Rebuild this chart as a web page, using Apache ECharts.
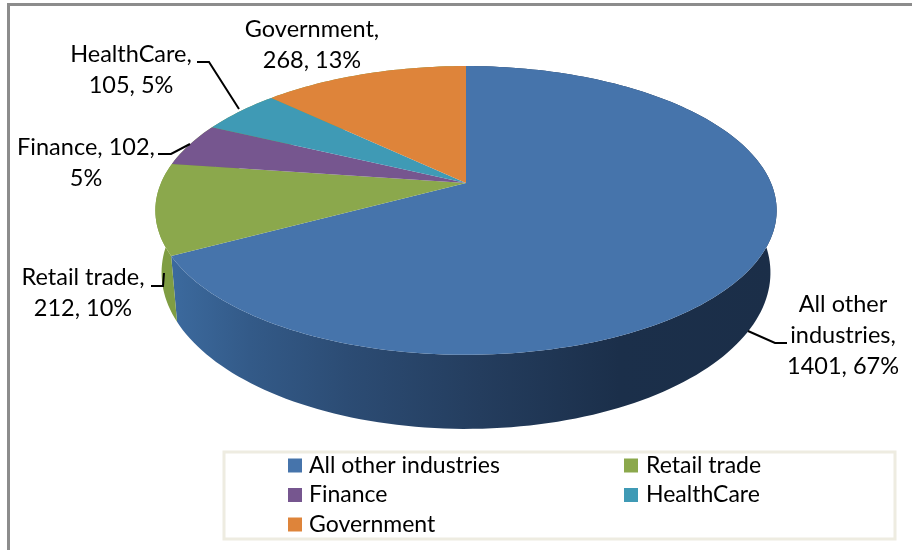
<!DOCTYPE html>
<html>
<head>
<meta charset="utf-8">
<style>html,body{margin:0;padding:0;background:#fff}#main{width:912px;height:550px}</style>
<script src="https://cdn.jsdelivr.net/npm/echarts@6/dist/echarts.min.js"></script>
</head>
<body>
<div id="main"></div>
<script>
var categories = ['All other industries', 'Retail trade', 'Finance', 'HealthCare', 'Government'];
var values = [1401, 212, 102, 105, 268];
var labelTexts = [
    'All other\nindustries,\n1401, 67%',
    'Retail trade,\n212, 10%',
    'Finance, 102,\n5%',
    'HealthCare,\n105, 5%',
    'Government,\n268, 13%'
];
var colors = ['#4674ab', '#8ba84c', '#76568f', '#3f9ab5', '#de843a'];

// where the labels and their leader lines sit
var labelPos = [[843, 335], [83, 293], [86, 163], [131, 70], [312, 45]];
var leaders = [
    [[787, 343], [775, 343], [748, 331]],
    [[151, 286], [163, 286], [164, 273]],
    [[158, 154], [171, 154], [190, 144]],
    [[197, 62], [209, 62], [239, 109]],
    null
];

var total = values.reduce(function (a, b) { return a + b; }, 0);

// tilted disc: projective mapping of the unit circle, the apex is not the ellipse centre
var cx = 466, cy = 183, A = 305, B = 104.4, K = -0.19, depth = 60;
function project(deg, drop) {
    var t = deg * Math.PI / 180;
    var a = Math.sin(t), b = -Math.cos(t);
    var w = 1 + K * b;
    var shrink = drop ? 0.98 : 1;
    return [cx + shrink * A * a / w, (cy + (drop ? depth : 0) + B * b) / w];
}
function arcPoints(from, to, drop) {
    var pts = [], n = Math.max(2, Math.ceil((to - from) / 1.5));
    for (var i = 0; i <= n; i++) {
        pts.push(project(from + (to - from) * i / n, drop));
    }
    return pts;
}

var startAngles = [];
(function () {
    var acc = 0;
    values.forEach(function (v) {
        startAngles.push(acc / total * 360);
        acc += v;
    });
})();

function wallFill(idx) {
    if (idx === 0) {
        return {
            type: 'linear', x: 0, y: 0, x2: 1, y2: 0,
            colorStops: [
                { offset: 0, color: '#3c6a9e' },
                { offset: 0.13, color: '#335a88' },
                { offset: 0.29, color: '#2c4c74' },
                { offset: 0.51, color: '#243d5e' },
                { offset: 0.74, color: '#1b2f4a' },
                { offset: 1, color: '#1b2e48' }
            ]
        };
    }
    return '#7f9d43';
}

function renderSlice(params) {
    var idx = params.seriesIndex;
    var from = startAngles[idx];
    var to = from + values[idx] / total * 360;
    var top = arcPoints(from, to, false);
    var bottom = arcPoints(from, to, true);
    var children = [];

    // only the near half of the rim shows, the top faces paint over the rest
    children.push({
        type: 'polygon', z2: 1, silent: true,
        shape: { points: top.concat(bottom.slice().reverse()) },
        style: { fill: wallFill(idx) }
    });
    children.push({
        type: 'polygon', z2: 2,
        shape: { points: [[cx, cy]].concat(top) },
        style: { fill: colors[idx] }
    });
    if (leaders[idx]) {
        children.push({
            type: 'polyline', z2: 3, silent: true,
            shape: { points: leaders[idx] },
            style: { stroke: '#000', lineWidth: 2, fill: null }
        });
    }
    children.push({
        type: 'text', z2: 4, silent: true,
        x: labelPos[idx][0], y: labelPos[idx][1],
        style: {
            text: labelTexts[idx], fill: '#000',
            font: '23.5px Lato', lineHeight: 31,
            align: 'center', verticalAlign: 'middle'
        }
    });
    return { type: 'group', children: children };
}

var series = categories.map(function (name, i) {
    return {
        name: name,
        type: 'custom',
        coordinateSystem: 'none',
        renderItem: renderSlice,
        itemStyle: { color: colors[i] },
        animation: false,
        data: [{ name: name, value: values[i] }]
    };
});

var legendBase = {
    orient: 'vertical',
    icon: 'rect',
    itemWidth: 14,
    itemHeight: 14,
    itemGap: 6.5,
    top: 449,
    selectedMode: false
};
var legendText = { fontFamily: 'Lato', fontSize: 23, color: '#000', lineHeight: 20 };

var myChart = echarts.init(document.getElementById('main'), null, { renderer: 'canvas' });
var option = {
    animation: false,
    color: colors,
    legend: [
        Object.assign({}, legendBase, {
            left: 283,
            data: [categories[0], categories[2], categories[4]],
            textStyle: Object.assign({ padding: [0, 0, 0, 2] }, legendText)
        }),
        Object.assign({}, legendBase, {
            left: 619,
            data: [categories[1], categories[3]],
            textStyle: Object.assign({ padding: [0, 0, 0, 3] }, legendText)
        })
    ],
    graphic: [
        { type: 'rect', z: -1, shape: { x: 8.5, y: 4.5, width: 920, height: 560 }, style: { fill: '#fff', stroke: '#8c8c8c', lineWidth: 3 } },
        { type: 'rect', z: 0, shape: { x: 224, y: 452, width: 671, height: 87 }, style: { fill: '#fff', stroke: '#eeece1', lineWidth: 3 } }
    ],
    series: series
};
myChart.setOption(option);
</script>
</body>
</html>
